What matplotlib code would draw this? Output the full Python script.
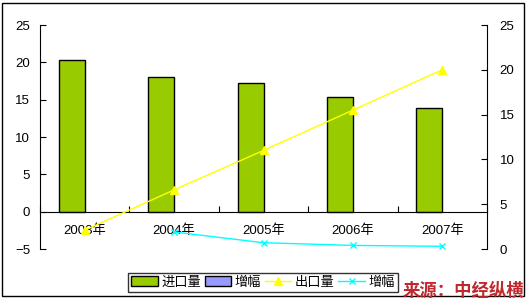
import matplotlib
matplotlib.use("Agg")
import matplotlib.pyplot as plt
from matplotlib.patches import Rectangle
import numpy as np

plt.rcParams['font.family'] = ['Liberation Sans', 'Noto Sans CJK SC']

# data
years = ['2003年', '2004年', '2005年', '2006年', '2007年']
imports = [20.3, 18.0, 17.2, 15.4, 13.9]
import_growth = [0, 0, 0, 0, 0]          # blue bar series, empty in the chart
exports = [2.1, 6.6, 11.0, 15.5, 20.0]
export_growth = [np.nan, 1.9, 0.7, 0.4, 0.3]

fig = plt.figure(figsize=(5.28, 3.05), dpi=100, facecolor='white')
ax = fig.add_axes([40/528, 56/305, 447/528, 224/305])
ax2 = ax.twinx()

x = np.arange(len(years))
w = 0.29
b1 = ax.bar(x - w/2, imports, w, color='#99CC00', edgecolor='black', linewidth=1, label='进口量')
b2 = ax.bar(x + w/2, import_growth, w, color='#9999FF', edgecolor='black', linewidth=1, label='增幅')

l1, = ax2.plot(x, exports, color='#FFFF00', marker='^', markersize=6, linewidth=1, label='出口量')
l2, = ax2.plot(x, export_growth, color='#00FFFF', marker='x', markersize=5, linewidth=1, label='增幅')

ax.set_xlim(-0.5, 4.5)
ax.set_ylim(-5, 25)
ax2.set_ylim(0, 25)
ax.set_yticks([-5, 0, 5, 10, 15, 20, 25])
ax2.set_yticks([0, 5, 10, 15, 20, 25])

for s in ['top', 'right']:
    ax.spines[s].set_visible(False)
for s in ['top', 'left', 'bottom']:
    ax2.spines[s].set_visible(False)
ax.spines['bottom'].set_position(('data', 0))

ax.set_xticks(np.arange(-0.5, 5, 1))
ax.set_xticklabels([])
ax.set_xticks(x, years, minor=True)
ax.tick_params(axis='x', which='major', direction='in', length=4)
ax.tick_params(axis='x', which='minor', length=0, pad=9, labelsize=9.5)
ax.tick_params(axis='y', direction='in', length=4, pad=7, labelsize=9.5)
ax2.tick_params(axis='y', direction='in', length=4, pad=9, labelsize=9.5)

leg = fig.legend(handles=[b1, b2, l1, l2], loc='center', bbox_to_anchor=(263/528, 0.074),
                 ncol=4, fontsize=9.5, frameon=True, fancybox=False, edgecolor='black',
                 handlelength=2.0, handletextpad=0.25, columnspacing=0.3, borderpad=0.25,
                 borderaxespad=0)
leg.get_frame().set_linewidth(1)

# the empty bars leave no outline on the axis
for p in b2:
    p.set_linewidth(0)

fig.patches.append(Rectangle((2/528, 9/305), 522/528, 293/305, transform=fig.transFigure,
                             fill=False, edgecolor='black', linewidth=1))

fig.text(0.993, 0.045, '来源：中经纵横', ha='right', va='center', fontsize=12.5,
         color='#C0282D', fontweight='bold', style='italic', family='Noto Sans CJK SC')

fig.savefig('out.png', dpi=100)
